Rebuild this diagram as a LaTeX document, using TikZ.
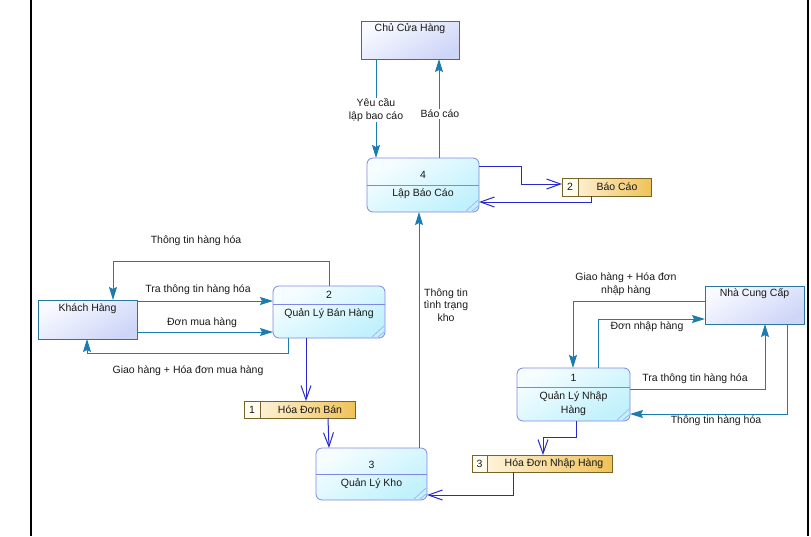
\documentclass[tikz,border=0pt]{standalone}
\usepackage{fontspec}
\setmainfont{Liberation Sans}
\usetikzlibrary{arrows.meta}

\definecolor{flowteal}{RGB}{27,125,175}
\definecolor{flowblue}{RGB}{40,40,205}
\definecolor{entline}{RGB}{40,118,160}
\definecolor{entlight}{RGB}{248,250,255}
\definecolor{entdark}{RGB}{206,214,248}
\definecolor{procline}{RGB}{128,134,230}
\definecolor{proclight}{RGB}{246,253,255}
\definecolor{procdark}{RGB}{192,241,252}
\definecolor{storeline}{RGB}{120,100,40}
\definecolor{storelight}{RGB}{255,248,232}
\definecolor{storedark}{RGB}{240,194,88}
\definecolor{storecream}{RGB}{255,252,240}
\definecolor{txt}{RGB}{25,25,25}

\tikzset{
  entity/.style={rectangle, draw=entline, line width=0.9pt, inner sep=0pt, outer sep=0pt,
    top color=entlight, bottom color=entdark, shading angle=30},
  proc/.style={rectangle, draw=procline, line width=0.8pt, rounded corners=6pt,
    inner sep=0pt, outer sep=0pt, top color=proclight, bottom color=procdark, shading angle=30},
  store/.style={rectangle, draw=storeline, line width=0.8pt, inner sep=0pt, outer sep=0pt,
    left color=storelight, right color=storedark},
  storecell/.style={draw=storeline, line width=0.8pt, fill=storecream},
  divider/.style={draw=procline, line width=0.8pt},
  hatch/.style={draw=procline!70, line width=0.6pt},
  tx/.style={inner sep=0pt, text=txt, align=center},
  lbl/.style={inner sep=1pt, text=txt, align=center},
  lblw/.style={lbl, fill=white},
  flow/.style={draw=flowteal, line width=1pt, -{Stealth[length=13pt,width=8pt,inset=2pt]}},
  dataflow/.style={draw=flowblue, line width=1pt, -{Straight Barb[length=14pt,width=10pt]}},
  frame/.style={draw=black, line width=1.1pt}
}

\begin{document}
\begin{tikzpicture}[x=1pt, y=-1pt, font=\fontsize{10.5}{12.5}\selectfont]
\path[use as bounding box] (0,0) rectangle (811,536);

% page margins
\coordinate (fl1) at (31,0);   \coordinate (fl2) at (31,536);
\coordinate (fr1) at (808,0);  \coordinate (fr2) at (808,536);
\draw[frame] (fl1) -- (fl2);
\draw[frame] (fr1) -- (fr2);

% ---------- external entities ----------
\node[entity, minimum width=98pt, minimum height=38pt] (chu) at (410,40) {};
\node[tx] (chut) at (410,29) {Chủ Cửa Hàng};

\node[entity, minimum width=99pt, minimum height=39pt] (kh) at (87.5,319.5) {};
\node[tx] (kht) at (87.5,309) {Khách Hàng};

\node[entity, minimum width=99pt, minimum height=38pt] (ncc) at (754.5,305) {};
\node[tx] (ncct) at (754.5,294) {Nhà Cung Cấp};

% ---------- processes ----------
\node[proc, minimum width=112pt, minimum height=54pt] (p4) at (423,185) {};
\draw[divider] ([yshift=-27pt]p4.north west) -- ([yshift=-27pt]p4.north east);
\draw[hatch] ([xshift=-13pt,yshift=1pt]p4.south east) -- ([xshift=-1pt,yshift=12pt]p4.south east);
\draw[hatch] ([xshift=-7pt,yshift=1pt]p4.south east) -- ([xshift=-1pt,yshift=6pt]p4.south east);
\node[tx] (p4n) at (423,175) {4};
\node[tx] (p4t) at (423,194) {Lập Báo Cáo};

\node[proc, minimum width=112pt, minimum height=52pt] (p2) at (329,312) {};
\draw[divider] ([yshift=-18pt]p2.north west) -- ([yshift=-18pt]p2.north east);
\draw[hatch] ([xshift=-13pt,yshift=1pt]p2.south east) -- ([xshift=-1pt,yshift=12pt]p2.south east);
\draw[hatch] ([xshift=-7pt,yshift=1pt]p2.south east) -- ([xshift=-1pt,yshift=6pt]p2.south east);
\node[tx] (p2n) at (329,295) {2};
\node[tx] (p2t) at (329,314) {Quản Lý Bán Hàng};

\node[proc, minimum width=111pt, minimum height=52pt] (p3) at (371.5,474) {};
\draw[divider] ([yshift=-26pt]p3.north west) -- ([yshift=-26pt]p3.north east);
\draw[hatch] ([xshift=-13pt,yshift=1pt]p3.south east) -- ([xshift=-1pt,yshift=12pt]p3.south east);
\draw[hatch] ([xshift=-7pt,yshift=1pt]p3.south east) -- ([xshift=-1pt,yshift=6pt]p3.south east);
\node[tx] (p3n) at (371.5,465) {3};
\node[tx] (p3t) at (371.5,483.5) {Quản Lý Kho};

\node[proc, minimum width=113pt, minimum height=53pt] (p1) at (573.5,394.5) {};
\draw[divider] ([yshift=-19pt]p1.north west) -- ([yshift=-19pt]p1.north east);
\draw[hatch] ([xshift=-13pt,yshift=1pt]p1.south east) -- ([xshift=-1pt,yshift=12pt]p1.south east);
\draw[hatch] ([xshift=-7pt,yshift=1pt]p1.south east) -- ([xshift=-1pt,yshift=6pt]p1.south east);
\node[tx] (p1n) at (573.5,377.5) {1};
\node[tx, font=\fontsize{10.5}{13.5}\selectfont] (p1t) at (573.5,403.5) {Quản Lý Nhập\\Hàng};

% ---------- data stores ----------
\node[store, minimum width=89pt, minimum height=18pt] (s2) at (606.5,187) {};
\draw[storecell] (s2.north west) rectangle (578,0 |- s2.south);
\node[tx] (s2n) at (570,187) {2};
\node[tx] (s2t) at (617,187) {Báo Cáo};

\node[store, minimum width=111pt, minimum height=17pt] (s1) at (299.5,409.5) {};
\draw[storecell] (s1.north west) rectangle (260,0 |- s1.south);
\node[tx] (s1n) at (252,409.5) {1};
\node[tx] (s1t) at (310,409.5) {Hóa Đơn Bán};

\node[store, minimum width=140pt, minimum height=17pt] (s3) at (542,463.5) {};
\draw[storecell] (s3.north west) rectangle (487,0 |- s3.south);
\node[tx] (s3n) at (479.5,463.5) {3};
\node[tx] (s3t) at (554,463.5) {Hóa Đơn Nhập Hàng};

% ---------- flows around Lập Báo Cáo ----------
\draw[flow] (376,0 |- chu.south) -- (376,0 |- p4.north);
\node[lblw] (l1) at (376,110) {Yêu cầu\\lập bao cáo};
\draw[flow] (439,0 |- p4.north) -- (439,0 |- chu.south);
\node[lblw] (l2) at (440,114) {Báo cáo};

\draw[dataflow] (p4.east |- 0,166) -| (521,184) -- (s2.west |- 0,184);
\draw[dataflow] (591,0 |- s2.south) |- (p4.east |- 0,202);

\draw[flow] (419,0 |- p3.north) -- (419,0 |- p4.south);
\node[lbl] (l3) at (446,305) {Thông tin\\tình trạng\\kho};

% ---------- flows around Quản Lý Bán Hàng ----------
\draw[flow] (329,0 |- p2.north) -- (329,261) -| (113,0 |- kh.north);
\node[lbl] (l4) at (196,241) {Thông tin hàng hóa};
\draw[flow] (kh.east |- 0,301) -- (p2.west |- 0,301);
\node[lbl] (l5) at (198,290) {Tra thông tin hàng hóa};
\draw[flow] (kh.east |- 0,332) -- (p2.west |- 0,332);
\node[lbl] (l6) at (202,323) {Đơn mua hàng};
\draw[flow] (288,0 |- p2.south) |- (87,353) -- (87,0 |- kh.south);
\node[lbl] (l7) at (188,371) {Giao hàng + Hóa đơn mua hàng};

\draw[dataflow] (306,0 |- p2.south) -- (306,0 |- s1.north);
\draw[dataflow] (328,0 |- s1.south) -- (329,0 |- p3.north);

% ---------- flows around Quản Lý Nhập Hàng ----------
\draw[flow] (ncc.west |- 0,301) -| (573,0 |- p1.north);
\node[lbl] (l8) at (626,284) {Giao hàng + Hóa đơn\\nhập hàng};
\draw[flow] (598,0 |- p1.north) |- (ncc.west |- 0,319);
\node[lbl] (l9) at (647,327) {Đơn nhập hàng};
\draw[flow] (p1.east |- 0,389) -| (765,0 |- ncc.south);
\node[lbl] (l10) at (695,379) {Tra thông tin hàng hóa};
\draw[flow] (787,0 |- ncc.south) |- (p1.east |- 0,414);
\node[lbl] (l11) at (716,421) {Thông tin hàng hóa};

\draw[dataflow] (576,0 |- p1.south) -- (576,437) -| (543,0 |- s3.north);
\draw[dataflow] (513,0 |- s3.south) |- (p3.east |- 0,495);

\end{tikzpicture}
\end{document}
